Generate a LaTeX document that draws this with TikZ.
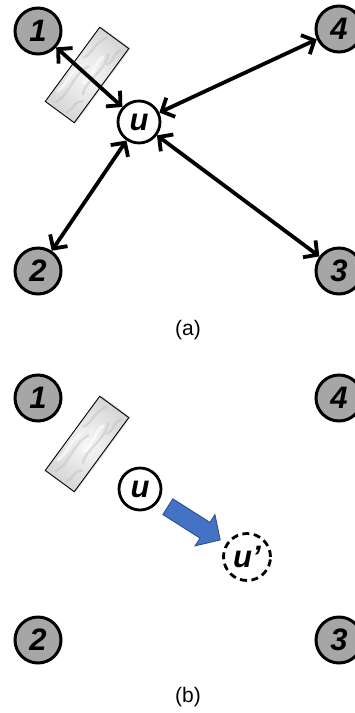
\documentclass[tikz,border=0pt]{standalone}
\usepackage{fontspec}
\setmainfont{Liberation Sans}
\usetikzlibrary{arrows.meta}

\definecolor{nodegray}{RGB}{166,166,166}
\definecolor{moveblue}{RGB}{68,114,196}
\definecolor{moveedge}{RGB}{47,82,143}

\tikzset{
  peer/.style={circle, draw=black, line width=3pt, fill=nodegray,
    minimum size=46pt, inner sep=0pt,
    font=\fontsize{31}{31}\selectfont\bfseries\itshape},
  host/.style={circle, draw=black, line width=2.8pt, fill=white,
    minimum size=42pt, inner sep=0pt,
    font=\fontsize{31}{31}\selectfont\bfseries\itshape},
  ghost/.style={host, minimum size=47pt, dash pattern=on 7pt off 4.5pt},
  link/.style={line width=3.8pt,
    {Straight Barb[length=10pt,width=21pt]}-{Straight Barb[length=10pt,width=21pt]}},
  move/.style={draw=moveedge, line width=0.9pt, fill=moveblue, line join=miter},
  caption/.style={font=\fontsize{21}{21}\selectfont},
  % marble-like obstacle slab, long side along local x
  wall/.pic={
    \fill[black!25, opacity=.5] (-45,-16.5) rectangle (47.5,19.5);
    \path[inner color=gray!6, outer color=gray!32] (-46,-18) rectangle (46,18);
    \begin{scope}
      \clip (-46,-18) rectangle (46,18);
      \draw[gray!50, line width=2.4pt, opacity=.45, line cap=round]
        (-40,-9) .. controls (-25,-2) and (-10,-12) .. (8,-4)
        (-18,8) .. controls (-5,2) and (10,12) .. (30,5)
        (12,-13) .. controls (20,-8) and (30,-14) .. (42,-6)
        (-42,6) .. controls (-36,10) and (-30,4) .. (-24,12)
        (20,10) .. controls (26,14) and (34,8) .. (40,13);
      \draw[white, line width=3pt, opacity=.6, line cap=round]
        (-30,-14) .. controls (-18,-10) and (-8,-16) .. (4,-11)
        (-8,2) .. controls (2,6) and (14,-1) .. (24,2);
    \end{scope}
    \draw[line width=0.9pt] (-46,-18) rectangle (46,18);
  }
}

\begin{document}
\begin{tikzpicture}[x=1pt, y=-1pt]
  \useasboundingbox (0,0) rectangle (355,713);

  % ---------- (a): links around u ----------
  \pic[rotate=53.7] at (87,75) {wall};
  \node[peer] (a1) at (38,31) {1};
  \node[peer] (a4) at (339,29) {4};
  \node[peer] (a2) at (38,271) {2};
  \node[peer] (a3) at (339,271) {3};
  \node[host] (au) at (139,122) {u};
  \draw[link] (a1) -- (au);
  \draw[link] (au) -- (a4);
  \draw[link] (au) -- (a2);
  \draw[link] (au) -- (a3);
  \node[caption] (capa) at (188,330) {(a)};

  % ---------- (b): u moves to u' ----------
  \pic[rotate=53.7] at (87,444) {wall};
  \node[peer] (b1) at (38,398) {1};
  \node[peer] (b4) at (339,398) {4};
  \node[peer] (b2) at (38,640) {2};
  \node[peer] (b3) at (339,640) {3};
  \node[host] (bu) at (140,489) {u};
  \node[ghost] (bv) at (247,557) {u'};
  % block arrow along the line from u to u'
  \begin{scope}[shift={(bu.center)}, rotate=-32.4]
    \draw[move] (33,-9.3) -- (77,-9.3) -- (77,-18.5) -- (95,0)
      -- (77,18.5) -- (77,9.3) -- (33,9.3) -- cycle;
  \end{scope}
  \node[caption] (capb) at (188,697) {(b)};
\end{tikzpicture}
\end{document}
